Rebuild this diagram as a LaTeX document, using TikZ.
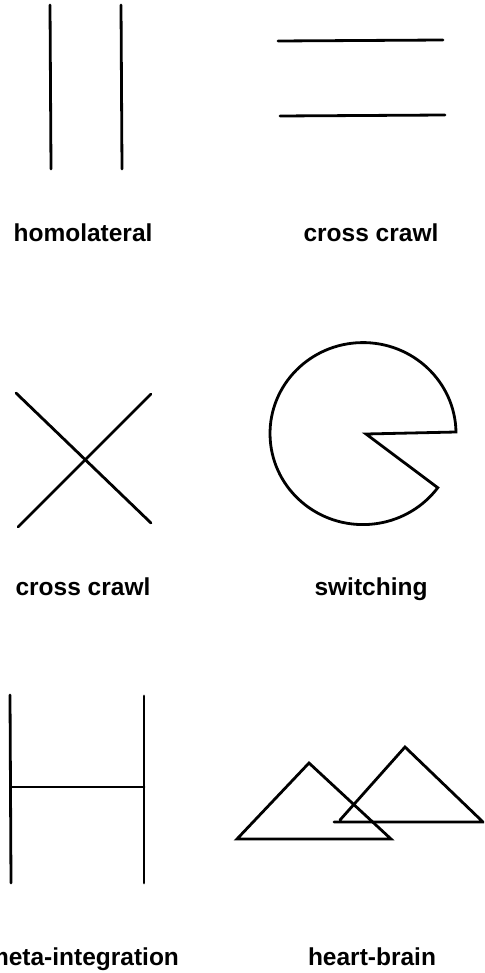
\documentclass[tikz,border=0pt]{standalone}
\usepackage{fontspec}
\setmainfont{Liberation Sans}
\begin{document}
\begin{tikzpicture}[x=1pt,y=-1pt,
  stroke/.style={line width=2.8pt,line cap=round,line join=miter},
  lbl/.style={anchor=base,inner sep=0pt,font=\bfseries\fontsize{24.5}{28}\selectfont}]
\useasboundingbox (0,0) rectangle (484,973);
\clip (0,0) rectangle (484,973);
% row 1
\draw[stroke] (50,5) -- (51,169);
\draw[stroke] (121,5) -- (122,169);
\draw[stroke] (278,41) -- (443,40);
\draw[stroke] (280,116) -- (445,115);
\node[lbl] (l1) at (83,242) {homolateral};
\node[lbl] (l2) at (371,242) {cross crawl};
% row 2
\draw[stroke] (16,393) -- (151,523);
\draw[stroke] (18,527) -- (151,394);
\draw[stroke] (366,434) -- (456,432) arc[start angle=1,end angle=323.5,x radius=93,y radius=-91] -- cycle;
\node[lbl] (l3) at (83,595) {cross crawl};
\node[lbl] (l4) at (371,595) {switching};
% row 3
\draw[stroke] (10,695) -- (11,883);
\draw[stroke] (144,696) -- (144,883);
\draw[stroke] (11,787) -- (144,787);
\draw[stroke] (309,763) -- (391,839) -- (237,839) -- cycle;
\draw[stroke] (340,820) -- (405,747) -- (483,822) -- (334,822);
\node[lbl] (l5) at (83,965) {meta-integration};
\node[lbl] (l6) at (372,965) {heart-brain};
\end{tikzpicture}
\end{document}
